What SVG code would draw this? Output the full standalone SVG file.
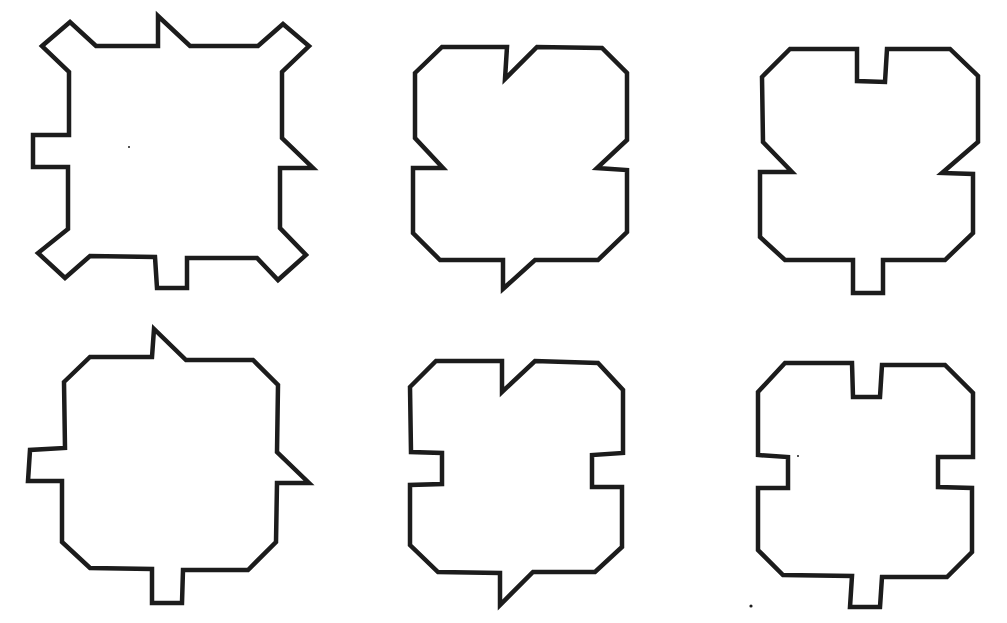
<svg xmlns="http://www.w3.org/2000/svg" width="1007" height="623" viewBox="0 0 1007 623">
<style>
.s{fill:none;stroke:#1c1c1c;stroke-width:4.5;stroke-linejoin:miter}
.d{fill:#1c1c1c}
</style>
<rect width="1007" height="623" fill="#fff"/>
<g id="shape1"><polygon class="s" points="42,46 70,22 96,46 158,46 158,16 190,46 258,46 283,24 309,46 282,72 282,138 313,168 280,168 280,228 306,255 278,280 257,258 187,258 187,288 157,288 155,257 90,256 65,278 38,253 68,229 68,167 33,167 33,135 69,135 69,72"/></g>
<g id="shape2"><polygon class="s" points="415,73 442,47 507,47 505,79 537,47 602,48 627,73 627,140 597,168 627,170 627,232 598,260 535,260 503,289 503,260 440,260 413,233 413,168 443,168 415,138"/></g>
<g id="shape3"><polygon class="s" points="762,77 790,49 857,49 857,81 885,82 887,49 950,49 978,76 978,142 942,173 973,174 973,233 945,260 883,260 883,293 853,293 853,260 785,260 760,237 760,172 792,172 763,142"/></g>
<g id="shape4"><polygon class="s" points="64,382 90,357 152,357 154,329 186,360 253,360 278,385 277,452 309,483 277,483 276,542 248,570 183,570 182,603 152,603 152,569 90,568 62,542 62,481 28,481 30,450 65,448"/></g>
<g id="shape5"><polygon class="s" points="410,387 436,361 502,361 502,392 535,361 598,363 623,390 623,453 592,455 592,487 622,487 622,547 595,572 533,572 500,605 500,573 438,572 410,545 410,485 442,484 442,453 411,452"/></g>
<g id="shape6"><polygon class="s" points="758,392 785,363 852,363 853,397 880,397 882,365 945,365 973,393 973,457 938,457 938,487 972,488 972,552 947,577 882,577 880,607 850,607 852,576 783,575 758,550 758,488 788,488 788,457 758,455"/></g>
<g id="marks">
<circle class="d" cx="129" cy="147" r="1"/>
<circle class="d" cx="751" cy="606" r="1.6"/>
<circle class="d" cx="798" cy="456" r="1"/>
</g>
</svg>
